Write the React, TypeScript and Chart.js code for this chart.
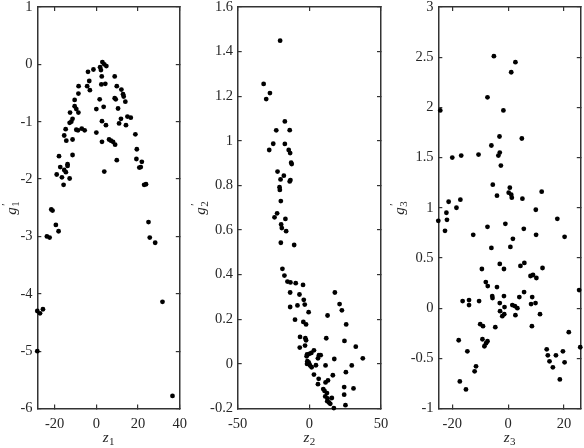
import React, { useEffect, useRef } from "react";
import { Chart, registerables } from "chart.js";
Chart.register(...registerables);

// ---------- data ----------
const z1 = [2.9, 3.8, 4.8, 1.8, 2.2, -1.4, -4, 2.6, 8.8, -3.4, -4.4, -3.1, 2.4, 4.3, 9.8, -8.5, -8.6, 12, 12.8, 13.1, -10.4, 8.8, 9.3, 1.6, 13.9, -10.4, 3.5, -9.6, 0, 10.4, -8.6, -12.6, 14.9, 16.5, 11.8, -11.4, -12, -12.8, 2.7, 10.9, 4.6, 14.2, -14.7, -9.6, -8.8, -7, -5.6, 0, -15.4, -14.4, -11.4, 6.1, 7, 8, 9, 2.7, 18.7, 19.4, -11.4, -17.9, 19.2, 9.8, -13.8, -17.3, -16.5, -14.6, -15.4, -13.8, -19, -12.8, -15.7, 3.8, 21.8, 21.3, 20.6, 22.9, 23.8, -21.6, -21, -19.4, -18.1, -23.7, -22.4, 25, 25.6, 28.2, 31.7, -28.3, -27, -25.6, -28.3, 36.5];
const g1 = [0.04, 0, -0.03, -0.05, -0.1, -0.09, -0.13, -0.21, -0.21, -0.29, -0.38, -0.45, -0.35, -0.34, -0.38, -0.38, -0.51, -0.44, -0.52, -0.56, -0.62, -0.59, -0.61, -0.61, -0.65, -0.73, -0.74, -0.78, -0.78, -0.77, -0.84, -0.84, -0.91, -0.93, -0.95, -0.95, -1.0, -1.02, -0.99, -1.03, -1.06, -1.06, -1.13, -1.14, -1.15, -1.12, -1.15, -1.19, -1.24, -1.33, -1.31, -1.31, -1.33, -1.35, -1.4, -1.35, -1.22, -1.48, -1.58, -1.6, -1.65, -1.67, -1.74, -1.79, -1.97, -1.88, -1.84, -1.77, -1.92, -1.99, -2.1, -1.87, -1.7, -1.79, -1.8, -2.1, -2.09, -2.53, -2.55, -2.8, -2.91, -3.0, -3.02, -2.75, -3.02, -3.11, -4.14, -4.3, -4.34, -4.27, -5.0, -5.78];

const z2 = [-20.4, -31.9, -27.5, -30.1, -17.1, -23.1, -13.7, -25.2, -17.1, -28, -14.4, -13.4, -12.7, -12.3, -22.2, -17.8, -20.1, -13.2, -13.7, -20.8, -20.6, -19.9, -22.5, -24.3, -16.7, -19.7, -19.2, -16.2, -19.9, -10.6, -18.8, -17.4, -15.3, -13.2, -9.5, -4.4, -13.4, -6.9, -3.9, -3.2, -8.3, -13.4, -0.5, 17.8, 21.1, 22.7, 12.7, 25.7, -10, -4.2, -2.3, -6.5, -2.8, -2.3, 11.8, 24.5, -6.7, -3, 32.4, 37.3, 3.2, 1.4, -1.6, 0, 6.7, 7.9, 6, -1.9, 17.4, -1.4, -0.5, -0.2, -1.6, 0.5, 1.6, 11.3, 29.6, 4.6, 3.2, 16.4, 25.5, 6.5, 13, 11.3, 6, 9.7, 10.6, 12.3, 24.3, 30.8, 11.1, 12.7, 15.7, 24.3, 12.5, 13.7, 14.6, 25.2, 17.1];
const g2 = [1.449, 1.255, 1.214, 1.187, 1.087, 1.047, 1.048, 0.987, 0.986, 0.959, 0.959, 0.945, 0.902, 0.896, 0.862, 0.844, 0.827, 0.824, 0.818, 0.792, 0.78, 0.73, 0.675, 0.657, 0.65, 0.625, 0.609, 0.595, 0.543, 0.533, 0.426, 0.396, 0.369, 0.365, 0.362, 0.354, 0.32, 0.311, 0.287, 0.266, 0.262, 0.255, 0.232, 0.32, 0.268, 0.24, 0.217, 0.177, 0.198, 0.188, 0.177, 0.121, 0.115, 0.106, 0.115, 0.103, 0.073, 0.082, 0.077, 0.025, 0.061, 0.049, 0.042, 0.045, 0.039, 0.039, 0.025, 0.034, 0.022, 0.012, 0.007, 0.001, 0, -0.007, -0.015, -0.007, -0.007, -0.006, -0.048, -0.051, -0.037, -0.067, -0.074, -0.083, -0.091, -0.113, -0.121, -0.131, -0.104, -0.11, -0.146, -0.155, -0.153, -0.138, -0.167, -0.173, -0.179, -0.185, -0.198];

const z3 = [-5.1, 2.6, 1.1, -7.4, -1.7, -24.3, -3.1, 4.9, -6, -3, -3.5, -10.6, -16.8, -20, -2.6, -5.5, 0.6, 12, 0.2, 1.1, -4, 1.3, 5.1, -17.1, -21.3, -18.5, 9.9, -22.1, 17.6, -21.9, -25, -22.6, -7.4, -1, 5.6, 10, -12.5, 20.2, 1.7, -6, 0.8, 25.4, -3, 5.8, 4.4, 12.3, -9.4, -1.5, 8, 8.9, 10.1, -8, -7.3, -4, 5.7, -5.7, -5.6, -1.5, 8.6, 4, -16.3, -14, -10.4, -14, -3, 8.2, 9.8, 1.5, 2.4, -1.3, 3.3, -2.9, -2.1, -1.4, 2.6, 11.4, -10, -9, -4.6, 8.5, 21.7, -17.7, -9.2, -7.4, -7.9, -8.5, 25.8, -14.6, 13.8, 19.6, 14.2, 17.1, 14.8, 20.2, 16, -11.5, -12, -17.3, 18.5, -15.1];
const g3 = [2.51, 2.45, 2.35, 2.1, 1.97, 1.97, 1.71, 1.69, 1.62, 1.55, 1.52, 1.53, 1.52, 1.5, 1.42, 1.23, 1.2, 1.16, 1.15, 1.13, 1.12, 1.1, 1.09, 1.08, 1.06, 1.0, 0.98, 0.95, 0.89, 0.88, 0.87, 0.77, 0.81, 0.84, 0.79, 0.73, 0.73, 0.71, 0.69, 0.6, 0.61, 0.18, 0.44, 0.45, 0.42, 0.4, 0.39, 0.39, 0.32, 0.33, 0.3, 0.26, 0.22, 0.21, 0.16, 0.12, 0.1, 0.12, 0.11, 0.11, 0.07, 0.08, 0.07, 0.03, 0.05, 0.04, 0.05, 0.03, 0.02, 0.01, 0, -0.03, -0.08, -0.06, -0.07, -0.06, -0.16, -0.18, -0.19, -0.18, -0.24, -0.32, -0.31, -0.33, -0.35, -0.38, -0.39, -0.43, -0.41, -0.43, -0.47, -0.47, -0.53, -0.54, -0.59, -0.58, -0.63, -0.73, -0.71, -0.81];

const xTicks1 = [-20, 0, 20, 40];
const yTicks1 = [1, 0, -1, -2, -3, -4, -5, -6];
const xTicks2 = [-50, 0, 50];
const yTicks2 = [1.6, 1.4, 1.2, 1, 0.8, 0.6, 0.4, 0.2, 0, -0.2];
const xTicks3 = [-20, 0, 20];
const yTicks3 = [3, 2.5, 2, 1.5, 1, 0.5, 0, -0.5, -1];

const xRange1 = [-28.3, 40];
const yRange1 = [-6, 1];
const xRange2 = [-50, 50];
const yRange2 = [-0.2, 1.6];
const xRange3 = [-25, 26];
const yRange3 = [-1, 3];

const subscripts = ["1", "2", "3"];

// ---------- layout / style ----------
const W = 584;
const H = 448;
const FONT = '"Liberation Serif", "Times New Roman", Times, serif';
const INK = "#262626";
const AXIS = "#333333";

type Panel = {
  x: number[];
  y: number[];
  xTicks: number[];
  yTicks: number[];
  xRange: number[];
  yRange: number[];
  sub: string;
  left: number;
  right: number;
  titleX: number;
};

const TOP = 7;
const BOTTOM = 408.5;
const TICKLEN = 4;

const panels: Panel[] = [
  { x: z1, y: g1, xTicks: xTicks1, yTicks: yTicks1, xRange: xRange1, yRange: yRange1, sub: subscripts[0], left: 37.3, right: 179.8, titleX: 15.7 },
  { x: z2, y: g2, xTicks: xTicks2, yTicks: yTicks2, xRange: xRange2, yRange: yRange2, sub: subscripts[1], left: 237.7, right: 381, titleX: 204.7 },
  { x: z3, y: g3, xTicks: xTicks3, yTicks: yTicks3, xRange: xRange3, yRange: yRange3, sub: subscripts[2], left: 438.3, right: 580.8, titleX: 403.7 },
];

function makeChart(canvas: HTMLCanvasElement, p: Panel) {
  const titles = {
    id: "matlabTitles",
    afterDraw(chart: any) {
      const ctx: CanvasRenderingContext2D = chart.ctx;
      const a = chart.chartArea;
      ctx.save();
      ctx.fillStyle = INK;
      ctx.textBaseline = "alphabetic";
      ctx.textAlign = "left";
      const bigFont = `italic 15px ${FONT}`;
      const smallFont = `11px ${FONT}`;
      // x title: z_n
      ctx.font = bigFont;
      const wz = ctx.measureText("z").width;
      ctx.font = smallFont;
      const ws = ctx.measureText(p.sub).width;
      const cx = (a.left + a.right) / 2;
      const x0 = cx - (wz + ws + 0.5) / 2;
      ctx.font = bigFont;
      ctx.fillText("z", x0, 441.5);
      ctx.font = smallFont;
      ctx.fillText(p.sub, x0 + wz + 0.5, 445);
      // y title: g'_n rotated
      const cy = (a.top + a.bottom) / 2;
      ctx.translate(p.titleX, cy);
      ctx.rotate(-Math.PI / 2);
      ctx.font = bigFont;
      const wg = ctx.measureText("g").width;
      ctx.font = smallFont;
      const wsub = ctx.measureText(p.sub).width;
      const total = wg + Math.max(wsub, 4) + 1;
      const gx = -total / 2;
      ctx.font = bigFont;
      ctx.fillText("g", gx, 0);
      ctx.font = smallFont;
      ctx.fillText("\u2032", gx + wg + 1.5, -6.5);
      ctx.fillText(p.sub, gx + wg + 0.5, 3.5);
      ctx.restore();
    },
  };

  const tickFont = { family: FONT, size: 14.5 };
  const border = { display: true, color: AXIS, width: 1.5 };
  const grid = {
    display: true,
    drawOnChartArea: false,
    drawTicks: true,
    tickLength: -TICKLEN,
    color: AXIS,
    lineWidth: 1.2,
  };
  const fixX = (s: any) => {
    s.ticks = p.xTicks.map((v) => ({ value: v }));
  };
  const fixY = (s: any) => {
    s.ticks = p.yTicks.map((v) => ({ value: v }));
  };
  const zeroPad = (s: any) => {
    s.paddingLeft = 0;
    s.paddingRight = 0;
    s.paddingTop = 0;
    s.paddingBottom = 0;
  };

  return new Chart(canvas, {
    type: "scatter",
    data: {
      datasets: [
        {
          data: p.x.map((v, i) => ({ x: v, y: p.y[i] })),
          backgroundColor: "#000",
          borderColor: "#000",
          pointRadius: 2.4,
          pointBorderWidth: 0,
          pointHoverRadius: 2.4,
          clip: false,
          xAxisID: "x",
          yAxisID: "y",
        },
      ],
    },
    options: {
      animation: false,
      responsive: false,
      events: [],
      layout: { padding: { left: 0, right: W - p.right, top: TOP, bottom: 0 } },
      plugins: { legend: { display: false }, tooltip: { enabled: false } },
      scales: {
        x: {
          type: "linear",
          position: "bottom",
          min: p.xRange[0],
          max: p.xRange[1],
          grid,
          border,
          ticks: {
            font: tickFont,
            color: INK,
            padding: 6.5 + TICKLEN,
            maxRotation: 0,
            autoSkip: false,
            callback: (v: any) => String(v),
          },
          afterBuildTicks: fixX,
          afterFit: (s: any) => {
            s.height = H - BOTTOM;
            zeroPad(s);
          },
        },
        x2: {
          type: "linear",
          position: "top",
          min: p.xRange[0],
          max: p.xRange[1],
          grid,
          border,
          ticks: { display: false },
          afterBuildTicks: fixX,
          afterFit: (s: any) => {
            s.height = 0;
            zeroPad(s);
          },
        },
        y: {
          type: "linear",
          position: "left",
          min: p.yRange[0],
          max: p.yRange[1],
          grid,
          border,
          ticks: {
            font: tickFont,
            color: INK,
            padding: 4.7 + TICKLEN,
            autoSkip: false,
            callback: (v: any) => String(v),
          },
          afterBuildTicks: fixY,
          afterFit: (s: any) => {
            s.width = p.left;
            zeroPad(s);
          },
        },
        y2: {
          type: "linear",
          position: "right",
          min: p.yRange[0],
          max: p.yRange[1],
          grid,
          border,
          ticks: { display: false },
          afterBuildTicks: fixY,
          afterFit: (s: any) => {
            s.width = 0;
            zeroPad(s);
          },
        },
      },
    },
    plugins: [titles],
  } as any);
}

function PanelCanvas({ p }: { p: Panel }) {
  const ref = useRef<HTMLCanvasElement>(null);
  useEffect(() => {
    if (!ref.current) return;
    const c = makeChart(ref.current, p);
    return () => c.destroy();
  }, [p]);
  return (
    <canvas
      ref={ref}
      width={W}
      height={H}
      style={{ position: "absolute", left: 0, top: 0, width: W, height: H }}
    />
  );
}

export default function App() {
  return (
    <div
      style={{
        position: "fixed",
        left: 0,
        top: 0,
        width: W,
        height: H,
        background: "#fff",
        overflow: "hidden",
      }}
    >
      {panels.map((p, i) => (
        <PanelCanvas key={i} p={p} />
      ))}
    </div>
  );
}
